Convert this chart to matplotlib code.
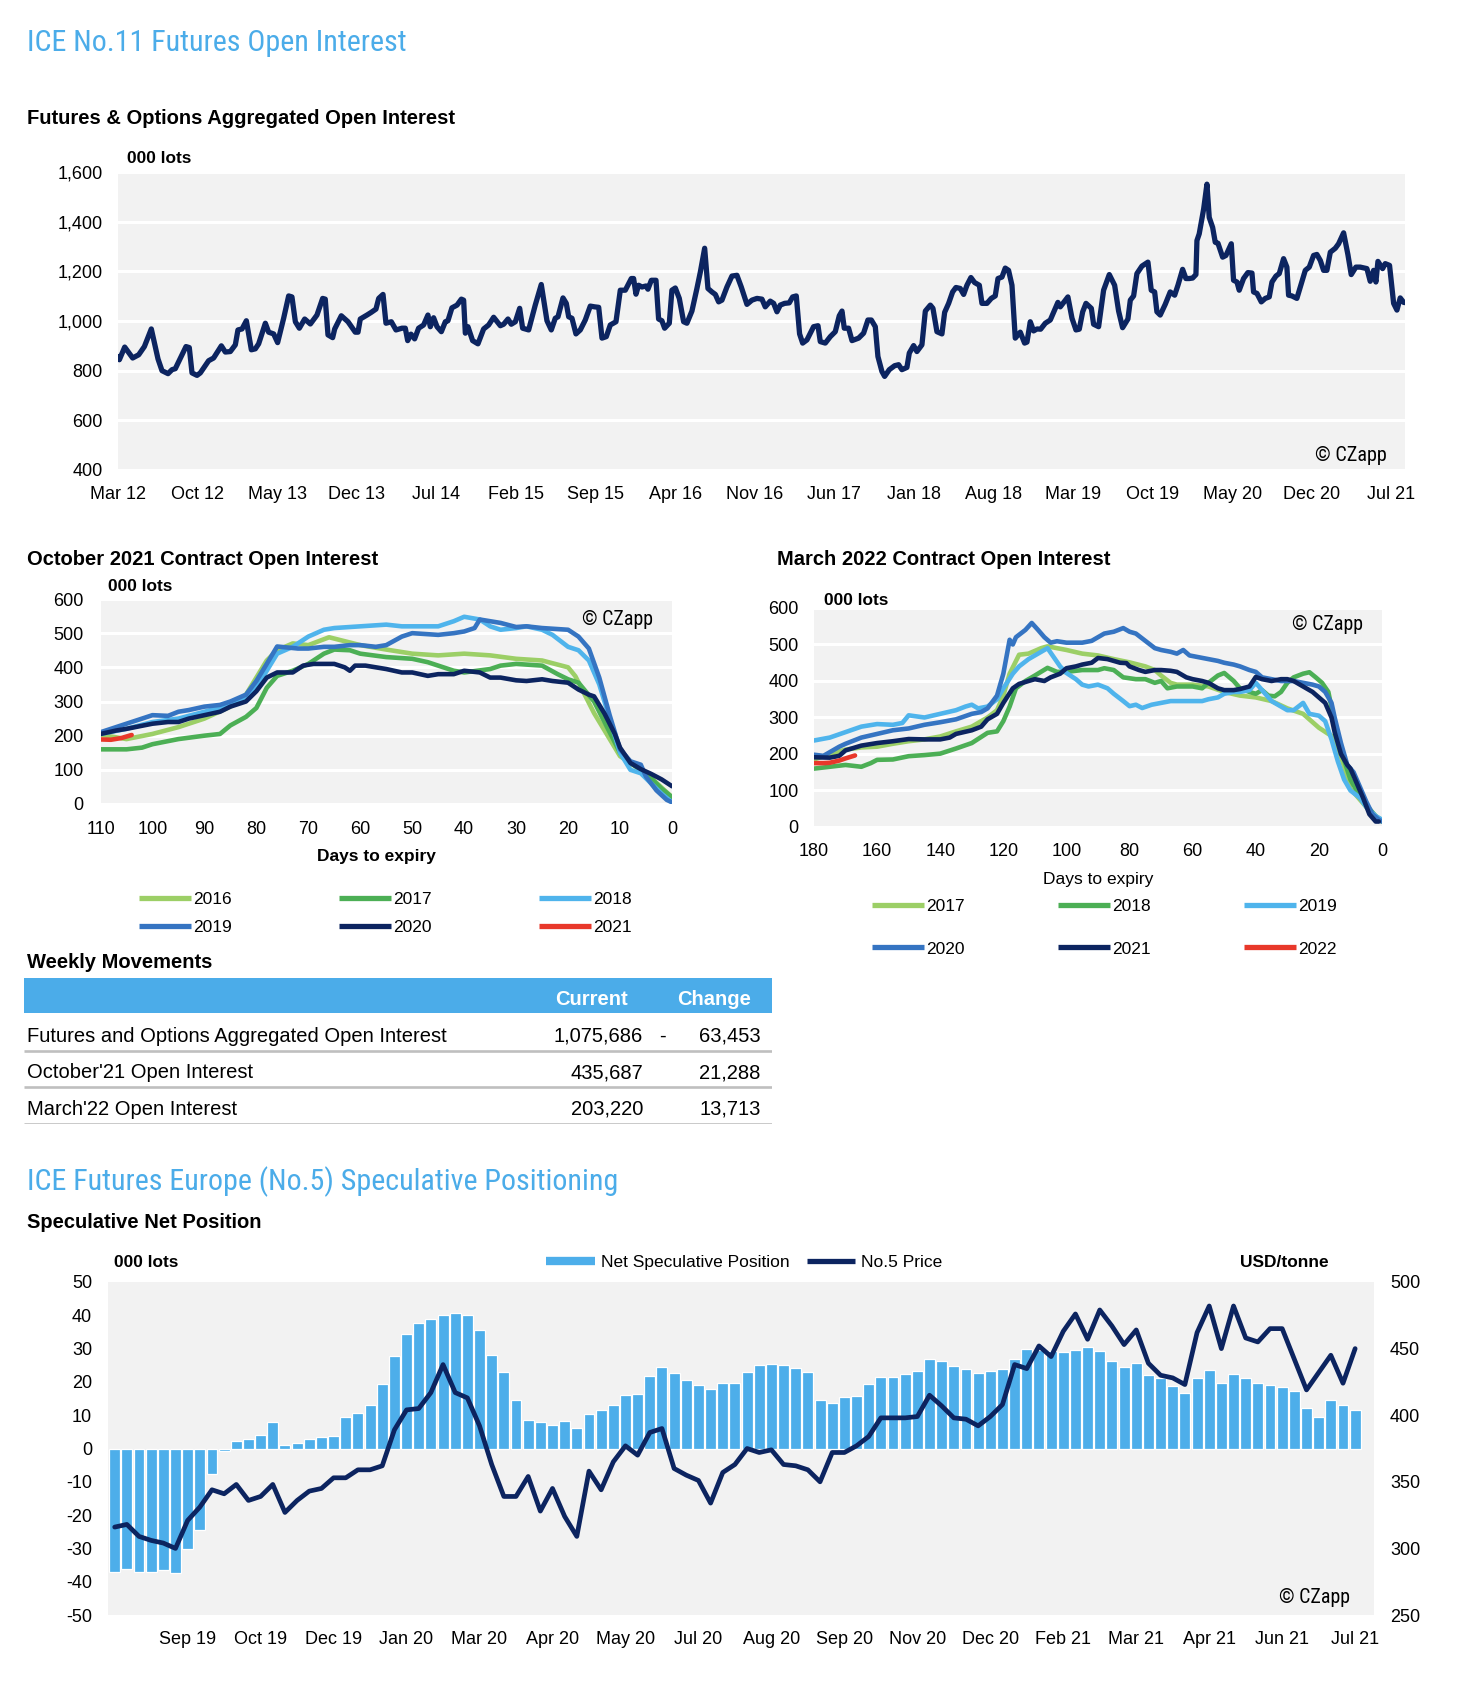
import os
import matplotlib
matplotlib.use("Agg")
import matplotlib.pyplot as plt
from matplotlib import font_manager as fm
from matplotlib.font_manager import FontProperties
from matplotlib.lines import Line2D
from matplotlib.patches import Rectangle
import numpy as np

# ---------------- DATA ----------------
# Aggregated open interest (000 lots); time in months since 1 Mar 2012
oi_t = [0, 0.12, 0.59, 1.29, 1.82, 2.32, 2.93, 3.52, 3.87, 4.40, 4.75, 5.04, 5.98, 6.27, 6.51, 6.95, 7.24,
        7.97, 8.41, 9.09, 9.44, 9.88, 10.32, 10.55, 10.91, 11.29, 11.73, 12.08, 12.37, 12.96, 13.25, 13.69,
        14.04, 14.57, 15.01, 15.30, 15.60, 15.95, 16.42, 16.92, 17.50, 18.00, 18.23, 18.47, 18.88, 19.06,
        19.64, 20.23, 20.87, 21.11, 21.31, 21.90, 22.28, 22.69, 22.93, 23.31, 23.57, 24.04, 24.45, 24.98,
        25.27, 25.48, 25.77, 26.09, 26.44, 26.88, 27.26, 27.47, 27.76, 28.06, 28.44, 28.79, 29.02, 29.37,
        29.82, 30.20, 30.40, 30.55, 30.78, 31.19, 31.66, 32.16, 32.60, 33.04, 33.63, 33.92, 34.30, 34.59,
        34.95, 35.33, 35.59, 36.12, 36.70, 37.23, 37.73, 38.11, 38.46, 38.70, 39.14, 39.43, 39.64, 39.93,
        40.28, 40.66, 41.10, 41.54, 41.92, 42.28, 42.57, 42.95, 43.30, 43.80, 44.18, 44.62, 45.15, 45.35,
        45.56, 45.79, 46.09, 46.44, 46.61, 46.91, 47.32, 47.55, 47.84, 48.08, 48.49, 48.72, 49.02, 49.37,
        49.75, 50.04, 50.48, 50.92, 51.22, 51.60, 51.89, 52.24, 52.54, 52.83, 53.12, 53.56, 54.00, 54.44,
        54.82, 55.32, 55.76, 56.20, 56.64, 56.93, 57.37, 57.67, 57.96, 58.25, 58.63, 59.04, 59.34, 59.66,
        59.95, 60.22, 60.60, 61.18, 61.57, 61.77, 62.21, 62.65, 63.09, 63.44, 63.68, 63.88, 64.26, 64.56,
        65.14, 65.58, 65.96, 66.26, 66.61, 66.84, 67.19, 67.43, 67.84, 68.31, 68.66, 68.95, 69.39, 69.60,
        69.98, 70.27, 70.71, 71.01, 71.45, 71.68, 72.03, 72.47, 72.71, 73.06, 73.41, 73.70, 74.08, 74.38,
        74.67, 75.02, 75.34, 75.76, 75.99, 76.43, 76.81, 77.16, 77.40, 77.75, 78.04, 78.33, 78.63, 78.92,
        79.36, 79.74, 79.95, 80.24, 80.53, 80.83, 81.15, 81.56, 82.00, 82.44, 82.67, 82.88, 83.55, 83.91,
        84.26, 84.55, 84.85, 85.14, 85.61, 85.81, 86.25, 86.69, 87.19, 87.66, 88.01, 88.36, 88.83, 89.04,
        89.33, 89.62, 90.06, 90.59, 90.88, 91.18, 91.38, 91.67, 92.11, 92.55, 92.94, 93.23, 93.64, 93.93,
        94.22, 94.52, 94.81, 94.90, 95.10, 95.49, 95.78, 95.98, 96.28, 96.51, 96.75, 97.16, 97.45, 97.92,
        98.12, 98.42, 98.62, 99.00, 99.38, 99.74, 99.88, 100.18, 100.56, 100.91, 101.26, 101.50, 101.85,
        102.14, 102.52, 102.81, 102.96, 103.25, 103.69, 104.08, 104.43, 104.78, 105.16, 105.45, 105.75,
        106.04, 106.33, 106.63, 107.07, 107.36, 107.80, 108.18, 108.47, 108.88, 109.26, 109.85, 110.14,
        110.44, 110.64, 110.82, 111.23, 111.46, 111.84, 112.20, 112.49, 112.78, 113.08, 113.37]
oi_val = [857, 844, 895, 851, 864, 897, 968, 847, 800, 788, 804, 808, 897, 893, 791, 781, 791,
          840, 851, 900, 875, 877, 904, 964, 968, 1001, 884, 888, 908, 991, 955, 948,
          913, 1011, 1101, 1097, 997, 971, 1008, 988, 1024, 1091, 1088, 944, 933, 968,
          1021, 997, 955, 955, 1008, 1024, 1035, 1048, 1091, 1107, 991, 997, 964, 971,
          971, 921, 947, 928, 971, 984, 1024, 977, 1013, 977, 957, 997, 1001, 1053,
          1064, 1088, 1084, 951, 977, 921, 908, 968, 984, 1015, 981, 987, 1008, 987,
          997, 1051, 971, 964, 1064, 1147, 1001, 964, 1011, 1017, 1093, 1071, 1017, 1011,
          948, 964, 1004, 1060, 1057, 1055, 931, 937, 984, 997, 1124, 1124, 1171, 1171,
          1108, 1144, 1137, 1141, 1128, 1164, 1164, 1008, 1001, 971, 991, 1124, 1133, 1091,
          997, 991, 1040, 1131, 1197, 1293, 1131, 1117, 1107, 1077, 1084, 1137, 1181, 1184,
          1137, 1067, 1084, 1091, 1088, 1057, 1080, 1071, 1037, 1064, 1071, 1073, 1097, 1101,
          948, 911, 924, 977, 981, 917, 911, 937, 957, 1021, 1040, 971, 971, 921,
          931, 951, 1004, 1004, 977, 857, 797, 777, 804, 820, 824, 804, 813, 871,
          901, 877, 904, 1040, 1064, 1051, 957, 948, 1035, 1071, 1117, 1135, 1131, 1107,
          1144, 1175, 1155, 1144, 1071, 1071, 1091, 1101, 1171, 1177, 1213, 1204, 1144, 931,
          955, 911, 915, 997, 960, 968, 967, 991, 1004, 1051, 1075, 1057, 1097, 1011,
          964, 967, 1037, 1071, 1051, 987, 977, 1124, 1187, 1144, 1040, 973, 1008, 1084,
          1101, 1191, 1221, 1237, 1124, 1117, 1037, 1024, 1067, 1117, 1104, 1144, 1208, 1171,
          1171, 1173, 1187, 1324, 1351, 1451, 1551, 1417, 1377, 1317, 1313, 1257, 1264, 1311,
          1164, 1157, 1124, 1171, 1195, 1193, 1117, 1111, 1077, 1091, 1097, 1157, 1181,
          1191, 1251, 1217, 1104, 1101, 1091, 1151, 1204, 1217, 1264, 1268, 1244,
          1204, 1204, 1277, 1293, 1311, 1355, 1267, 1187, 1217, 1217, 1211, 1160,
          1204, 1157, 1240, 1211, 1231, 1224, 1071, 1044, 1093, 1075, 1073]
oi_tick_labels = ['Mar 12', 'Oct 12', 'May 13', 'Dec 13', 'Jul 14', 'Feb 15', 'Sep 15', 'Apr 16', 'Nov 16',
                  'Jun 17', 'Jan 18', 'Aug 18', 'Mar 19', 'Oct 19', 'May 20', 'Dec 20', 'Jul 21']

# October 2021 contract open interest (000 lots) vs days to expiry
oct_years = ['2016', '2017', '2018', '2019', '2020', '2021']
oct_d16 = [110, 105, 100, 95, 90, 85, 82, 80, 78, 76, 73, 70, 66, 60, 55, 50, 45, 40, 35, 30, 25, 20, 18.6, 15, 12.3, 10, 5, 0]
oct_v16 = [203, 190, 205, 225, 250, 285, 320, 370, 420, 450, 470, 465, 488, 465, 452, 440, 435, 440, 435, 425, 420, 400, 374, 266, 198, 140, 90, 20]
oct_d17 = [110, 105, 102, 100, 95, 90, 87, 85, 82, 80, 78, 76, 73, 70, 67, 65, 62, 60, 55, 50, 47, 45, 42, 40, 35, 33, 30, 25, 22, 20, 18, 15, 13, 10, 8, 5, 2, 0]
oct_v17 = [160, 160, 165, 175, 190, 200, 205, 230, 255, 281, 340, 375, 390, 410, 440, 452, 450, 440, 430, 425, 415, 405, 390, 385, 395, 405, 410, 405, 380, 365, 355, 300, 240, 150, 120, 90, 45, 20]
oct_d18 = [110, 105, 100, 95, 90, 85, 82, 80, 78, 76, 73, 70, 67, 65, 60, 55, 52, 50, 45, 42, 40, 37, 35, 33, 30, 28, 25, 23, 20, 18, 16, 14, 12, 10, 8, 6, 4, 2, 0]
oct_v18 = [205, 220, 240, 250, 270, 290, 310, 340, 390, 440, 460, 490, 510, 515, 520, 525, 520, 520, 520, 535, 548, 540, 520, 510, 515, 520, 510, 495, 460, 450, 420, 350, 250, 150, 100, 90, 60, 30, 5]
oct_d19 = [110, 105, 103, 100, 97, 95, 93, 90, 87, 85, 82, 80, 78, 76, 72, 70, 67, 65, 62, 60, 57, 55, 52, 50, 45, 42, 40, 38, 37, 35, 33, 30, 28, 25, 22, 20, 18, 16, 14, 12, 10, 8, 7, 6, 5, 3, 1, 0]
oct_v19 = [210, 235, 245, 260, 258, 270, 275, 285, 290, 300, 320, 360, 410, 461, 455, 455, 460, 460, 465, 465, 460, 465, 490, 500, 495, 500, 505, 515, 540, 535, 530, 518, 520, 515, 512, 510, 490, 455, 370, 260, 160, 125, 120, 115, 80, 40, 12, 5]
oct_d20 = [110, 107, 105, 100, 97, 95, 93, 90, 87, 85, 82, 80, 78, 76, 73, 71, 69, 65, 63, 62, 61, 59, 55, 52, 50, 47, 45, 42, 40, 37, 35, 33, 30, 28, 25, 23, 20, 18, 16, 15, 13, 11, 10, 8, 6, 4, 2, 0]
oct_v20 = [205, 215, 220, 235, 240, 240, 250, 260, 270, 285, 300, 330, 370, 385, 385, 405, 410, 410, 400, 390, 405, 405, 395, 385, 385, 375, 380, 380, 390, 385, 370, 370, 362, 360, 365, 360, 355, 335, 320, 315, 265, 205, 165, 120, 102, 88, 72, 52]
oct_d21 = [110, 108, 106, 104]
oct_v21 = [189, 188, 193, 202]

# March 2022 contract open interest (000 lots) vs days to expiry
mar_years = ['2017', '2018', '2019', '2020', '2021', '2022']
mar_d17 = [180, 175, 170, 165, 160, 155, 150, 145, 140, 135, 130, 125, 122, 120, 118, 115, 112, 108, 106, 100, 95, 90, 85, 80, 75, 72, 70, 67, 65, 60, 55, 50, 45, 40, 35, 30, 25, 20, 17, 15, 12, 10, 6, 3, 0]
mar_v17 = [185, 200, 212, 218, 220, 228, 235, 240, 248, 262, 275, 300, 320, 360, 420, 472, 475, 490, 495, 485, 475, 470, 460, 451, 440, 430, 415, 395, 390, 390, 385, 370, 360, 355, 345, 325, 310, 272, 255, 245, 165, 105, 65, 35, 18]
mar_d18 = [180, 175, 170, 165, 162, 160, 155, 150, 145, 140, 135, 130, 125, 122, 120, 118, 116, 113, 110, 106, 103, 100, 95, 90, 88, 85, 82, 78, 75, 72, 70, 68, 65, 60, 57, 55, 52, 50, 47, 45, 42, 40, 38, 36, 34, 32, 30, 28, 25, 23, 21, 19, 17, 15, 13, 10, 7, 5, 2, 0]
mar_v18 = [160, 165, 170, 165, 175, 184, 185, 194, 197, 201, 215, 230, 258, 262, 290, 330, 380, 400, 415, 436, 425, 425, 430, 430, 435, 430, 410, 405, 405, 395, 400, 380, 385, 385, 380, 395, 415, 422, 400, 380, 370, 365, 375, 360, 358, 370, 395, 410, 420, 424, 410, 395, 370, 285, 210, 130, 85, 60, 30, 15]
mar_d19 = [180, 175, 170, 165, 160, 155, 152, 150, 145, 140, 135, 132, 130, 128, 125, 122, 120, 117, 115, 112, 108, 106, 104, 102, 100, 97, 95, 93, 90, 87, 85, 82, 80, 78, 76, 73, 70, 67, 65, 60, 57, 55, 52, 50, 47, 45, 42, 40, 38, 35, 32, 30, 28, 25, 23, 20, 18, 16, 14, 12, 10, 7, 5, 2, 0]
mar_v19 = [237, 245, 260, 275, 282, 280, 285, 306, 300, 310, 320, 330, 335, 325, 330, 350, 380, 420, 440, 460, 480, 490, 465, 440, 422, 405, 390, 385, 390, 380, 365, 345, 331, 335, 326, 335, 340, 345, 345, 345, 345, 350, 355, 365, 370, 370, 375, 395, 375, 345, 330, 320, 320, 340, 310, 305, 290, 240, 180, 130, 100, 80, 55, 30, 20]
mar_d20 = [180, 177, 175, 172, 170, 165, 160, 155, 150, 145, 140, 135, 130, 127, 125, 122, 120, 118, 117, 116, 113, 111, 109, 107, 105, 103, 100, 95, 92, 90, 88, 85, 82, 80, 78, 75, 72, 70, 67, 65, 63, 61, 58, 55, 52, 50, 47, 45, 42, 40, 38, 35, 32, 30, 28, 25, 22, 20, 18, 16, 15, 13, 11, 9, 7, 5, 3, 1, 0]
mar_v20 = [198, 195, 205, 220, 228, 245, 255, 265, 270, 280, 287, 295, 310, 315, 325, 360, 420, 513, 500, 520, 540, 559, 540, 520, 505, 509, 505, 505, 510, 520, 530, 535, 545, 535, 530, 510, 490, 485, 480, 475, 485, 470, 465, 460, 455, 450, 445, 440, 430, 425, 410, 405, 400, 400, 400, 395, 390, 385, 370, 340, 300, 230, 170, 150, 110, 70, 35, 20, 15]
mar_d21 = [180, 175, 172, 170, 165, 160, 155, 150, 145, 140, 137, 135, 130, 127, 125, 122, 120, 117, 115, 112, 110, 107, 105, 102, 100, 97, 95, 92, 90, 87, 85, 83, 81, 80, 77, 75, 72, 70, 67, 65, 62, 60, 57, 55, 52, 50, 47, 45, 42, 40, 38, 35, 32, 30, 28, 25, 22, 20, 18, 16, 15, 13, 11, 10, 8, 6, 4, 2, 1]
mar_v21 = [191, 190, 195, 210, 223, 230, 235, 241, 240, 240, 245, 255, 265, 275, 295, 310, 340, 380, 392, 400, 405, 400, 410, 420, 435, 440, 445, 450, 463, 460, 455, 450, 449, 440, 430, 425, 430, 430, 428, 425, 410, 405, 400, 395, 380, 375, 375, 378, 385, 411, 405, 400, 405, 405, 400, 385, 370, 355, 340, 300, 260, 200, 170, 160, 120, 80, 35, 15, 15]
mar_d22 = [180, 177, 175, 172, 170, 167]
mar_v22 = [175, 175, 176, 182, 188, 196]

# Weekly movements table
table_labels = ["Futures and Options Aggregated Open Interest", "October'21 Open Interest", "March'22 Open Interest"]
table_current = [1075686, 435687, 203220]
table_change = [-63453, 21288, 13713]

# Speculative net position (000 lots, weekly) and No.5 price (USD/tonne)
net_spec = [-37.2, -36.2, -37.2, -37.2, -36.5, -37.3, -30.3, -24.4, -7.7, -0.7,
            2.4, 2.9, 4.1, 7.9, 1.0, 1.6, 2.9, 3.4, 3.8, 9.4,
            10.6, 13.2, 19.3, 27.7, 34.3, 37.7, 38.9, 40.0, 40.7, 40.0,
            35.7, 28.0, 22.9, 14.6, 8.6, 8.0, 7.1, 8.4, 6.3, 10.4,
            11.6, 13.0, 16.0, 16.3, 21.8, 24.6, 22.8, 20.5, 19.0, 17.8,
            19.6, 19.8, 23.0, 25.2, 25.5, 25.1, 24.3, 22.9, 14.7, 13.7,
            15.6, 15.8, 19.4, 21.4, 21.6, 22.4, 23.4, 26.9, 26.2, 24.7,
            24.0, 22.6, 23.2, 23.9, 26.9, 29.9, 29.7, 29.4, 28.9, 29.5,
            30.4, 29.4, 26.2, 24.5, 25.6, 22.0, 21.1, 18.8, 16.7, 21.3,
            23.7, 19.8, 22.3, 21.3, 19.6, 19.2, 18.6, 17.4, 12.3, 9.6,
            14.7, 13.2, 11.6]
price = [316, 318, 309, 306, 304, 300, 321, 331, 344, 341,
         348, 336, 339, 348, 327, 336, 343, 345, 353, 353,
         359, 359, 362, 389, 404, 405, 417, 438, 417, 413,
         392, 363, 339, 339, 354, 328, 345, 324, 309, 358,
         344, 365, 377, 370, 387, 390, 360, 355, 351, 334,
         357, 363, 375, 372, 374, 363, 362, 359, 350, 372,
         372, 377, 384, 398, 398, 398, 399, 415, 407, 398,
         397, 392, 399, 408, 438, 435, 452, 444, 463, 476,
         457, 479, 467, 453, 464, 439, 430, 428, 423, 462,
         482, 450, 482, 458, 455, 465, 465, 442, 419, 432,
         445, 424, 450]
spec_tick_labels = ['Sep 19', 'Oct 19', 'Dec 19', 'Jan 20', 'Mar 20', 'Apr 20', 'May 20', 'Jul 20', 'Aug 20',
                    'Sep 20', 'Nov 20', 'Dec 20', 'Feb 21', 'Mar 21', 'Apr 21', 'Jun 21', 'Jul 21']

# ---------------- STYLE ----------------
W, H = 1466, 1682
plt.rcParams['font.family'] = ['Liberation Sans', 'DejaVu Sans']
plt.rcParams['axes.unicode_minus'] = False
BG = '#F2F2F2'
NAVY = '#0C2460'
TBLUE = '#4BACE9'
BAR = '#4DAEEA'
C16, C17, C18, C19, C20, C21 = '#9CCF66', '#4CAF55', '#4FB4EC', '#3574C2', '#0C2460', '#E8382A'


def find_narrow():
    entries = fm.fontManager.ttflist

    def regular(e):
        return e.style == 'normal' and e.weight in (400, 'normal', 'regular', 'book')
    for name in ['Liberation Sans Narrow', 'Arial Narrow', 'Roboto Condensed', 'Nimbus Sans Narrow',
                 'Open Sans Condensed', 'Noto Sans Condensed', 'DejaVu Sans Condensed']:
        for e in entries:
            if e.name == name and regular(e):
                return e.fname
    for e in entries:
        fn = os.path.basename(e.fname).lower()
        if ('condensed' in fn or 'narrow' in fn) and regular(e) and not any(
                k in fn for k in ('bold', 'italic', 'light', 'thin', 'medium', 'black', 'semi', 'extra', 'oblique', 'mono', 'serif')):
            return e.fname
    return None


NARROW_FILE = find_narrow()

fig = plt.figure(figsize=(W / 100, H / 100), dpi=100)
renderer = fig.canvas.get_renderer()


def rect(l, t, r, b):
    return [l / W, 1 - b / H, (r - l) / W, (b - t) / H]


def ftext(x, y, s, **kw):
    va = kw.pop('va', 'baseline')
    return fig.text(x / W, 1 - y / H, s, va=va, **kw)


def narrow_text(x, y, s, size, target_w, color='black'):
    if NARROW_FILE:
        fp = FontProperties(fname=NARROW_FILE, size=size)
    else:
        fp = FontProperties(family=['Liberation Sans', 'DejaVu Sans'], size=size)
    t = fig.text(x / W, 1 - y / H, s, va='baseline', color=color, fontproperties=fp)
    w = t.get_window_extent(renderer).width
    if w > 0:
        t.set_fontsize(min(size * 1.08, size * target_w / w))
    return t


def style(ax, xpad, ypad, fs=13):
    ax.set_facecolor(BG)
    for sp in ax.spines.values():
        sp.set_visible(False)
    ax.tick_params(axis='both', length=0, labelsize=fs, colors='black')
    ax.tick_params(axis='x', pad=xpad)
    ax.tick_params(axis='y', pad=ypad)
    ax.set_axisbelow(True)


# ---------------- TOP: aggregated OI ----------------
narrow_text(27, 51, 'ICE No.11 Futures Open Interest', 23, 381, color=TBLUE)
ftext(27, 124, 'Futures & Options Aggregated Open Interest', fontsize=14.5, weight='bold')
ftext(127, 163, '000 lots', fontsize=12.4, weight='bold')

ax1 = fig.add_axes(rect(118, 172, 1405, 470))
style(ax1, 11.5, 11)
ax1.plot(oi_t, oi_val, color=NAVY, lw=3.8, solid_joinstyle='round', solid_capstyle='round')
ax1.set_xlim(0, 113.2)
ax1.set_ylim(400, 1600)
ax1.set_yticks(np.arange(400, 1601, 200))
ax1.set_yticklabels([f'{v:,}' for v in range(400, 1601, 200)])
ax1.set_xticks(np.arange(0, 7 * len(oi_tick_labels), 7))
ax1.set_xticklabels(oi_tick_labels)
ax1.grid(axis='y', color='white', lw=2.2)
narrow_text(1315, 461, '© CZapp', 15, 72)


def legend_handles(colors):
    return [Line2D([], [], color=c, lw=3.8, solid_capstyle='butt') for c in colors]


order = [0, 3, 1, 4, 2, 5]

# ---------------- MIDDLE LEFT: October 2021 ----------------
ftext(27, 565, 'October 2021 Contract Open Interest', fontsize=14.5, weight='bold')
ftext(108, 591, '000 lots', fontsize=12.4, weight='bold')
ax2 = fig.add_axes(rect(100.5, 599, 672, 804))
style(ax2, 12, 12)
oct_series = [(oct_d16, oct_v16, C16), (oct_d17, oct_v17, C17), (oct_d18, oct_v18, C18),
              (oct_d19, oct_v19, C19), (oct_d20, oct_v20, C20), (oct_d21, oct_v21, C21)]
for d, v, c in oct_series:
    ax2.plot(d, v, color=c, lw=3.3, solid_joinstyle='round', solid_capstyle='round')
ax2.set_xlim(110, 0)
ax2.set_ylim(0, 600)
ax2.set_xticks(np.arange(110, -1, -10))
ax2.set_yticks(np.arange(0, 601, 100))
ax2.grid(axis='y', color='white', lw=2.2)
narrow_text(582, 625, '© CZapp', 15, 71)
ftext(376, 861, 'Days to expiry', fontsize=12.5, weight='bold', ha='center')
hs = legend_handles([s[2] for s in oct_series])
ax2.legend([hs[i] for i in order], [oct_years[i] for i in order], ncol=3, loc='upper left',
           bbox_to_anchor=(139 / W, 1 - 892 / H), bbox_transform=fig.transFigure, frameon=False,
           borderpad=0, borderaxespad=0, handlelength=3.0, handletextpad=0.12, columnspacing=6.17,
           labelspacing=0.72, fontsize=12.5)

# ---------------- MIDDLE RIGHT: March 2022 ----------------
ftext(777, 565, 'March 2022 Contract Open Interest', fontsize=14.5, weight='bold')
ftext(824, 605, '000 lots', fontsize=12.4, weight='bold')
ax3 = fig.add_axes(rect(814, 608, 1382, 827))
style(ax3, 11.3, 11)
mar_series = [(mar_d17, mar_v17, C16), (mar_d18, mar_v18, C17), (mar_d19, mar_v19, C18),
              (mar_d20, mar_v20, C19), (mar_d21, mar_v21, C20), (mar_d22, mar_v22, C21)]
for d, v, c in mar_series:
    ax3.plot(d, v, color=c, lw=3.3, solid_joinstyle='round', solid_capstyle='round')
ax3.set_xlim(180, 0)
ax3.set_ylim(0, 600)
ax3.set_xticks(np.arange(180, -1, -20))
ax3.set_yticks(np.arange(0, 601, 100))
ax3.grid(axis='y', color='white', lw=2.2)
narrow_text(1292, 630, '© CZapp', 15, 71)
ftext(1098, 884, 'Days to expiry', fontsize=12.5, ha='center')
hs = legend_handles([s[2] for s in mar_series])
ax3.legend([hs[i] for i in order], [mar_years[i] for i in order], ncol=3, loc='upper left',
           bbox_to_anchor=(872 / W, 1 - 899 / H), bbox_transform=fig.transFigure, frameon=False,
           borderpad=0, borderaxespad=0, handlelength=3.0, handletextpad=0.12, columnspacing=5.36,
           labelspacing=1.57, fontsize=12.5)

# ---------------- TABLE ----------------
ftext(27, 968, 'Weekly Movements', fontsize=14.5, weight='bold')
axt = fig.add_axes(rect(24, 978, 772, 1124))
axt.set_xlim(0, 1)
axt.set_ylim(4, 0)
axt.axis('off')
axt.add_patch(Rectangle((0, 0), 1, 0.96, color=TBLUE, lw=0))
axt.text(0.758, 0.74, 'Current', ha='center', va='baseline', color='white', weight='bold', fontsize=14.5)
axt.text(0.9225, 0.74, 'Change', ha='center', va='baseline', color='white', weight='bold', fontsize=14.5)
for i, (lab, cur, chg) in enumerate(zip(table_labels, table_current, table_change)):
    y = i + 1
    axt.text(0.004, y + 0.75, lab, ha='left', va='baseline', fontsize=14.5)
    axt.text(0.8275, y + 0.75, f'{cur:,}', ha='right', va='baseline', fontsize=14.5)
    if chg < 0:
        axt.text(0.853, y + 0.75, '-', ha='center', va='baseline', fontsize=14.5)
    axt.text(0.985, y + 0.75, f'{abs(chg):,}', ha='right', va='baseline', fontsize=14.5)
    axt.plot([0, 1], [y + 0.99, y + 0.99], color='#BFBFBF', lw=1.9, solid_capstyle='butt')

# ---------------- BOTTOM: speculative positioning ----------------
narrow_text(27, 1190, 'ICE Futures Europe (No.5) Speculative Positioning', 23, 594, color=TBLUE)
ftext(27, 1228, 'Speculative Net Position', fontsize=14.5, weight='bold')
ftext(114, 1267, '000 lots', fontsize=12.4, weight='bold')
ftext(1240, 1267, 'USD/tonne', fontsize=12.5, weight='bold')

axb = fig.add_axes(rect(108, 1282, 1374, 1615))
style(axb, 11.3, 11.5)
idx = np.arange(len(net_spec))
axb.bar(idx, net_spec, width=0.9, color=BAR, edgecolor='white', linewidth=0.9, zorder=2)
axb.set_xlim(-0.55, 103.55)
axb.set_ylim(-50, 50)
axb.set_yticks(np.arange(-50, 51, 10))
axb.set_yticks([-30, -10, 10, 30], minor=True)
axb.tick_params(axis='y', which='minor', length=0)
axb.grid(axis='y', which='minor', color='white', lw=2.2, zorder=0)
axb.set_xticks(np.arange(6, 6 * len(spec_tick_labels) + 1, 6))
axb.set_xticklabels(spec_tick_labels)

axp = axb.twinx()
for sp in axp.spines.values():
    sp.set_visible(False)
axp.plot(idx, price, color=NAVY, lw=3.4, solid_joinstyle='round', solid_capstyle='round')
axp.set_ylim(250, 500)
axp.set_yticks(np.arange(250, 501, 50))
axp.tick_params(axis='y', length=0, labelsize=13, pad=11.5)
narrow_text(1279, 1603, '© CZapp', 15, 71)

leg_h = [Line2D([], [], color=BAR, lw=6, solid_capstyle='butt'),
         Line2D([], [], color=NAVY, lw=3.8, solid_capstyle='butt')]
axp.legend(leg_h, ['Net Speculative Position', 'No.5 Price'], ncol=2, loc='upper left',
           bbox_to_anchor=(546 / W, 1 - 1255 / H), bbox_transform=fig.transFigure, frameon=False,
           borderpad=0, borderaxespad=0, handlelength=2.8, handletextpad=0.35, columnspacing=1.0,
           fontsize=12.5)

fig.savefig('out.png', dpi=100, facecolor='white')
